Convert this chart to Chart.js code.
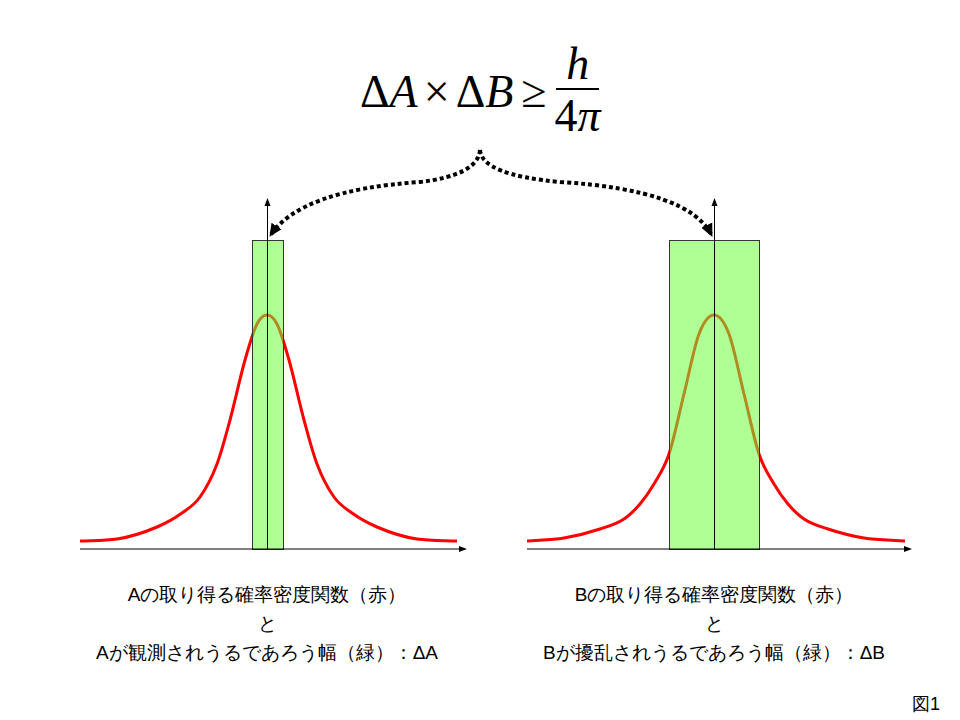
<!DOCTYPE html><html><head><meta charset="utf-8">
<script src="https://cdn.jsdelivr.net/npm/chart.js@4"></script>
<style>
body{margin:0;width:960px;height:720px;background:#fff;position:relative;overflow:hidden;font-family:"Liberation Sans",Arial,sans-serif}
canvas{position:absolute}
.lbl{position:absolute;width:440px;text-align:center;font-size:19px;line-height:29px;color:#000}
#f{position:absolute;left:360px;top:40px;font-family:"Liberation Serif",serif;font-size:46px;font-style:italic;display:flex;align-items:center}
</style></head><body>
<div id="f"><span style="font-style:normal">Δ</span>A<span style="font-style:normal;margin:0 6px">×</span><span style="font-style:normal">Δ</span>B<span style="font-style:normal;margin:0 8px">≥</span>
<span style="display:inline-flex;flex-direction:column;align-items:center"><span style="border-bottom:2px solid #000;padding:0 10px;line-height:48px">h</span><span style="line-height:52px"><span style="font-style:normal">4</span>π</span></span></div>
<svg style="position:absolute;left:0;top:0" width="960" height="720">
<defs><marker id="ah" markerUnits="userSpaceOnUse" markerWidth="14" markerHeight="14" refX="12" refY="7" orient="auto"><path d="M0,1 L13,7 L0,13 z" fill="#000"/></marker></defs>
<path d="M480,150 Q478,175 420,182 Q300,190 270,236" fill="none" stroke="#000" stroke-width="4" stroke-dasharray="4,3" marker-end="url(#ah)"/>
<path d="M480,150 Q482,175 560,182 Q690,190 712,236" fill="none" stroke="#000" stroke-width="4" stroke-dasharray="4,3" marker-end="url(#ah)"/>
</svg>
<canvas id="c1" style="left:70px;top:190px" width="405" height="370"></canvas>
<canvas id="c2" style="left:517px;top:190px" width="403" height="370"></canvas>
<div class="lbl" style="left:47px;top:580px">Aの取り得る確率密度関数（赤）<br>と<br>Aが観測されうるであろう幅（緑）：ΔA</div>
<div class="lbl" style="left:494px;top:580px">Bの取り得る確率密度関数（赤）<br>と<br>Bが擾乱されうるであろう幅（緑）：ΔB</div>
<div style="position:absolute;left:912px;top:692px;font-size:18px">図1</div>
<script>
const xA=[-1.87,-1.5,-1.1,-0.85,-0.67,-0.5,-0.37,-0.22,-0.1,0,0.1,0.22,0.37,0.5,0.67,0.85,1.1,1.5,1.9];
const yA=[8,10,22,36,52,85,129,189,225,234,225,189,129,85,52,36,22,10,8];
const boxA=[-0.15,0.16,309];
const xB=[-1.87,-1.5,-1.14,-0.9,-0.74,-0.6,-0.45,-0.3,-0.15,0,0.15,0.3,0.45,0.6,0.74,0.9,1.14,1.5,1.91];
const yB=[8,11,20,30,45,65,95,155,215,234,215,155,95,65,45,30,20,11,8];
const boxB=[-0.45,0.45,309];
function mk(id,xs,ys,box,xmax){
 const deco={id:'deco',afterDatasetsDraw(ch){
  const c=ch.ctx,xs_=ch.scales.x,ys_=ch.scales.y,a=ch.chartArea;
  const x0=xs_.getPixelForValue(box[0]),x1=xs_.getPixelForValue(box[1]),yt=ys_.getPixelForValue(box[2]),yb=ys_.getPixelForValue(0);
  c.save();c.fillStyle='rgba(110,255,60,0.55)';c.fillRect(x0,yt,x1-x0,yb-yt);
  c.strokeStyle='#333';c.lineWidth=1;c.strokeRect(x0+0.5,yt+0.5,x1-x0,yb-yt);
  c.strokeStyle='#000';c.fillStyle='#000';
  const ax=xs_.getPixelForValue(0);
  c.beginPath();c.moveTo(a.left,yb);c.lineTo(a.right,yb);c.moveTo(ax+0.5,yb);c.lineTo(ax+0.5,a.top);c.stroke();
  c.beginPath();c.moveTo(a.right+2,yb);c.lineTo(a.right-6,yb-3);c.lineTo(a.right-6,yb+3);c.fill();
  c.beginPath();c.moveTo(ax+0.5,a.top-2);c.lineTo(ax-2.5,a.top+6);c.lineTo(ax+3.5,a.top+6);c.fill();
  c.restore();}};
 new Chart(document.getElementById(id),{type:'line',
  data:{datasets:[{data:xs.map((x,i)=>({x,y:ys[i]})),borderColor:'#ff0000',borderWidth:3,pointRadius:0,cubicInterpolationMode:'monotone'}]},
  options:{responsive:false,animation:false,layout:{padding:{left:10,right:10,top:10,bottom:11}},
   plugins:{legend:{display:false},tooltip:{enabled:false}},
   scales:{x:{type:'linear',min:-1.87,max:xmax,display:false},y:{min:0,max:349,display:false}}},
  plugins:[deco]});
}
mk('c1',xA,yA,boxA,1.98);
mk('c2',xB,yB,boxB,1.96);
</script></body></html>
